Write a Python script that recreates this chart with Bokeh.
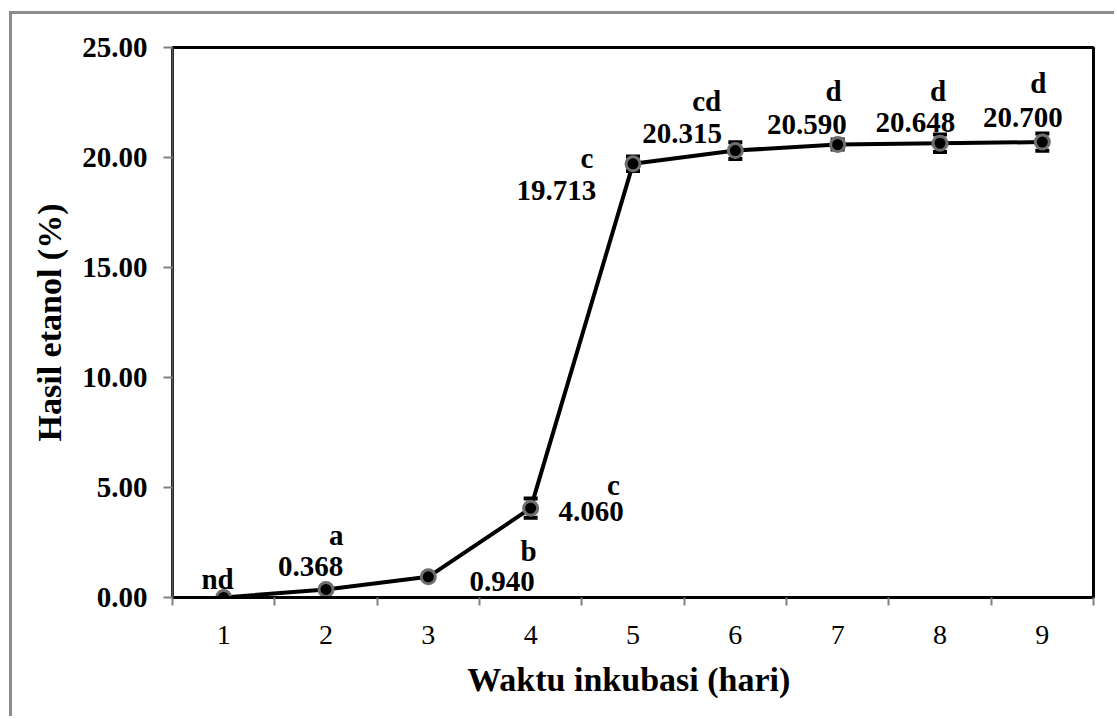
from bokeh.plotting import figure
from bokeh.models import (ColumnDataSource, FixedTicker, NumeralTickFormatter,
                          Range1d, Whisker, TeeHead)
from bokeh.core.properties import value
from bokeh.embed import file_html
from bokeh.resources import INLINE

# Incubation time (days) and ethanol yield (%)
days = [1, 2, 3, 4, 5, 6, 7, 8, 9]
ethanol = [0.0, 0.368, 0.940, 4.060, 19.713, 20.315, 20.590, 20.648, 20.700]
ethanol_err = [0.0, 0.0, 0.0, 0.44, 0.33, 0.38, 0.23, 0.40, 0.39]
letters = ["nd", "a", "b", "c", "c", "cd", "d", "d", "d"]
y_ticks = [0, 5, 10, 15, 20, 25]

# Where the significance letters and value labels sit (data units, text baseline)
letter_x = [0.94, 2.10, 3.98, 4.81, 4.55, 5.72, 6.96, 7.98, 8.96]
letter_y = [0.83, 2.84, 2.13, 5.11, 19.98, 22.57, 23.02, 23.02, 23.39]
value_x = [None, 1.85, 3.72, 4.59, 4.25, 5.48, 6.70, 7.76, 8.81]
value_y = [None, 1.43, 0.72, 3.90, 18.49, 21.11, 21.48, 21.61, 21.80]

SERIF = "Liberation Serif"

p = figure(width=1105, height=705, output_backend="svg", toolbar_location=None,
           x_range=Range1d(0.5, 9.5), y_range=Range1d(0, 25),
           min_border_left=160, min_border_right=24,
           min_border_top=33, min_border_bottom=122)
p.styles = {"margin-left": "9px", "margin-top": "11px",
            "border-left": "3px solid #8c8c8c", "border-top": "3px solid #8c8c8c"}

p.xgrid.visible = False
p.ygrid.visible = False
p.outline_line_color = "black"
p.outline_line_width = 3
p.background_fill_color = "white"
p.border_fill_color = "white"

# x axis: labels on the days, tick marks between them
xa = p.xaxis[0]
xa.ticker = FixedTicker(ticks=days, minor_ticks=[d - 0.5 for d in days] + [days[-1] + 0.5])
xa.major_tick_line_color = None
xa.major_tick_out = 0
xa.major_tick_in = 0
xa.minor_tick_line_color = "#808080"
xa.minor_tick_line_width = 2
xa.minor_tick_out = 8
xa.minor_tick_in = 0
xa.axis_line_color = "black"
xa.axis_line_width = 3
xa.major_label_text_font = SERIF
xa.major_label_text_font_size = "28px"
xa.major_label_text_color = "black"
xa.major_label_standoff = 20
xa.axis_label = "Waktu  inkubasi (hari)"
xa.axis_label_text_font = SERIF
xa.axis_label_text_font_style = "bold"
xa.axis_label_text_font_size = "34px"
xa.axis_label_text_color = "black"
xa.axis_label_standoff = 14

ya = p.yaxis[0]
ya.ticker = FixedTicker(ticks=y_ticks, minor_ticks=[])
ya.formatter = NumeralTickFormatter(format="0.00")
ya.major_tick_line_color = "#808080"
ya.major_tick_line_width = 2
ya.major_tick_out = 9
ya.major_tick_in = 0
ya.minor_tick_line_color = None
ya.axis_line_color = "#555555"
ya.axis_line_width = 2
ya.major_label_text_font = SERIF
ya.major_label_text_font_style = "bold"
ya.major_label_text_font_size = "29px"
ya.major_label_text_color = "black"
ya.major_label_standoff = 16
ya.axis_label = "Hasil etanol (%)"
ya.axis_label_text_font = SERIF
ya.axis_label_text_font_style = "bold"
ya.axis_label_text_font_size = "34px"
ya.axis_label_text_color = "black"
ya.axis_label_standoff = 11

# error bars (only where a deviation was measured)
eb_idx = [i for i, e in enumerate(ethanol_err) if e > 0]
err_src = ColumnDataSource(data=dict(
    base=[days[i] for i in eb_idx],
    upper=[ethanol[i] + ethanol_err[i] for i in eb_idx],
    lower=[ethanol[i] - ethanol_err[i] for i in eb_idx],
))
whisker = Whisker(source=err_src, base="base", upper="upper", lower="lower",
                  line_color="black", line_width=2, level="underlay",
                  upper_head=TeeHead(size=14, line_width=4, line_color="black"),
                  lower_head=TeeHead(size=14, line_width=4, line_color="black"))
p.add_layout(whisker)

src = ColumnDataSource(data=dict(day=days, ethanol=ethanol))
p.line("day", "ethanol", source=src, line_color="black", line_width=4)
p.scatter("day", "ethanol", source=src, size=14, fill_color="black",
          line_color="#6e6e6e", line_width=3)

# significance letters
letter_src = ColumnDataSource(data=dict(x=letter_x, y=letter_y, text=letters))
p.text("x", "y", text="text", source=letter_src, text_font=value(SERIF),
       text_font_style="bold", text_font_size="29px", text_color="black",
       text_align="center", text_baseline="alphabetic")

# value labels
vi = [i for i in range(len(days)) if value_x[i] is not None]
value_src = ColumnDataSource(data=dict(
    x=[value_x[i] for i in vi], y=[value_y[i] for i in vi],
    text=["%.3f" % ethanol[i] for i in vi]))
p.text("x", "y", text="text", source=value_src, text_font=value(SERIF),
       text_font_style="bold", text_font_size="29px", text_color="black",
       text_align="center", text_baseline="alphabetic")

open("out.html", "w").write(file_html(p, INLINE))
